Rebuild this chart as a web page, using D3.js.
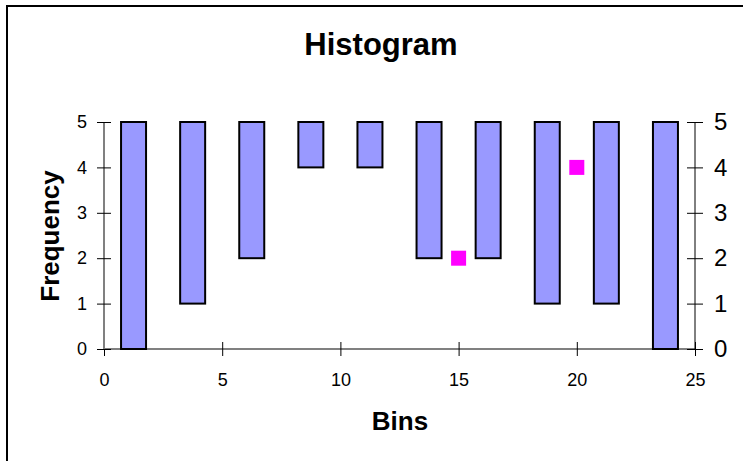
<!DOCTYPE html>
<html>
<head>
<meta charset="utf-8">
<script src="https://cdn.jsdelivr.net/npm/d3@7"></script>
<style>
  html, body { margin: 0; padding: 0; background: #fff; }
  svg { display: block; font-family: "Liberation Sans", Arial, sans-serif; }
</style>
</head>
<body>
<svg id="chart" width="743" height="461"></svg>
<script>
// Bin centres and the low/high frequency of each floating bar
const binCenters = [1.25, 3.75, 6.25, 8.75, 11.25, 13.75, 16.25, 18.75, 21.25, 23.75];
const binLow  = [0, 1, 2, 4, 4, 2, 2, 1, 1, 0];
const binHigh = [5, 5, 5, 5, 5, 5, 5, 5, 5, 5];
// Highlighted points
const pointX = [15, 20];
const pointY = [2, 4];
// Axis ticks
const xTicks = [0, 5, 10, 15, 20, 25];
const yTicks = [0, 1, 2, 3, 4, 5];

const FONT = "Liberation Sans, Arial, sans-serif";
const svg = d3.select("#chart");

// Chart frame
svg.append("rect")
  .attr("x", 7).attr("y", 6).attr("width", 760).attr("height", 480)
  .attr("fill", "#fff").attr("stroke", "#000").attr("stroke-width", 2);

const plotL = 104, plotR = 695, plotT = 122, plotB = 349;
const x = d3.scaleLinear().domain([0, 25]).range([plotL, plotR]);
const y = d3.scaleLinear().domain([0, 5]).range([plotB, plotT]);
const fmt = d3.format("d");

// Title
svg.append("text")
  .attr("x", 381).attr("y", 55)
  .attr("text-anchor", "middle")
  .attr("font-size", 31).attr("font-weight", "bold")
  .text("Histogram");

// Bottom axis
const xAxis = svg.append("g")
  .attr("transform", `translate(0,${plotB})`)
  .call(d3.axisBottom(x).tickValues(xTicks).tickFormat(fmt).tickSize(7).tickPadding(17));
xAxis.select(".domain").attr("stroke", "#808080").attr("stroke-width", 2).attr("d", `M${plotL},0H${plotR}`);
xAxis.selectAll(".tick line").attr("y1", -7).attr("stroke", "#000");
xAxis.selectAll(".tick text").attr("font-size", 18).attr("font-family", FONT).attr("fill", "#000");

// Left axis
const yAxisL = svg.append("g")
  .attr("transform", `translate(${plotL},0)`)
  .call(d3.axisLeft(y).tickValues(yTicks).tickFormat(fmt).tickSize(7).tickPadding(10));
yAxisL.select(".domain").attr("stroke", "#808080").attr("stroke-width", 2).attr("d", `M0,${plotT}V${plotB}`);
yAxisL.selectAll(".tick line").attr("x1", 7).attr("stroke", "#000");
yAxisL.selectAll(".tick text").attr("font-size", 18).attr("font-family", FONT).attr("fill", "#000");

// Right axis
const yAxisR = svg.append("g")
  .attr("transform", `translate(${plotR},0)`)
  .call(d3.axisRight(y).tickValues(yTicks).tickFormat(fmt).tickSize(8).tickPadding(11));
yAxisR.select(".domain").attr("stroke", "#000").attr("stroke-width", 1).attr("d", `M0,${plotT}V${plotB}`);
yAxisR.selectAll(".tick line").attr("x1", -8).attr("stroke", "#000");
yAxisR.selectAll(".tick text").attr("font-size", 24).attr("font-family", FONT).attr("fill", "#000");

// Floating bars
const barW = 25;
svg.append("g").selectAll("rect")
  .data(binCenters.map((c, i) => ({ c, lo: binLow[i], hi: binHigh[i] })))
  .join("rect")
  .attr("x", d => x(d.c) - barW / 2)
  .attr("width", barW)
  .attr("y", d => y(d.hi))
  .attr("height", d => y(d.lo) - y(d.hi))
  .attr("fill", "#9999FF")
  .attr("stroke", "#000")
  .attr("stroke-width", 2);

// Points
const ps = 15;
svg.append("g").selectAll("rect")
  .data(pointX.map((v, i) => ({ v, f: pointY[i] })))
  .join("rect")
  .attr("x", d => x(d.v) - ps / 2)
  .attr("y", d => y(d.f) - ps / 2)
  .attr("width", ps).attr("height", ps)
  .attr("fill", "#FF00FF");

// Axis titles
svg.append("text")
  .attr("transform", "translate(59,236) rotate(-90)")
  .attr("text-anchor", "middle")
  .attr("font-size", 26).attr("font-weight", "bold")
  .text("Frequency");

svg.append("text")
  .attr("x", 400).attr("y", 430)
  .attr("text-anchor", "middle")
  .attr("font-size", 26).attr("font-weight", "bold")
  .text("Bins");
</script>
</body>
</html>
